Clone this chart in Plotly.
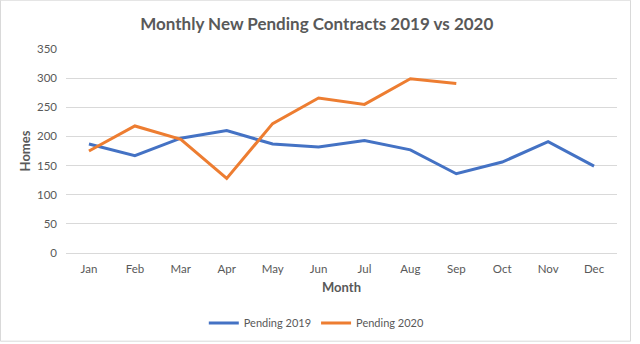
import plotly.graph_objects as go

months = ["Jan", "Feb", "Mar", "Apr", "May", "Jun", "Jul", "Aug", "Sep", "Oct", "Nov", "Dec"]
pending_2019 = [187, 167, 197, 210, 187, 182, 193, 177, 136, 156, 191, 149]
pending_2020 = [175, 218, 195, 128, 222, 266, 255, 299, 291]
y_ticks = [0, 50, 100, 150, 200, 250, 300, 350]

FONT = "Lato, Calibri, sans-serif"
GRAY = "#595959"

fig = go.Figure()
fig.add_trace(go.Scatter(x=months, y=pending_2019, mode="lines", name="Pending 2019",
                         line=dict(color="#4472C4", width=3)))
fig.add_trace(go.Scatter(x=months[:len(pending_2020)], y=pending_2020, mode="lines", name="Pending 2020",
                         line=dict(color="#ED7D31", width=3)))

fig.update_layout(
    width=640, height=344,
    margin=dict(l=66, r=23, t=49, b=91),
    paper_bgcolor="white", plot_bgcolor="white",
    font=dict(family=FONT, color=GRAY, size=12),
    title=dict(text="Monthly New Pending Contracts 2019 vs 2020", x=0.495, xref="container",
               y=1 - 24 / 344, yref="container", yanchor="middle", xanchor="center",
               font=dict(size=17, color=GRAY, family=FONT, weight="bold")),
    xaxis=dict(categoryorder="array", categoryarray=months, range=[-0.5, 11.5],
               showgrid=False, showline=True, linecolor="#d9d9d9", ticks="", ticklabelstandoff=5,
               title=dict(text="Month", font=dict(size=13, family=FONT, color=GRAY, weight="bold"), standoff=9),
               tickfont=dict(size=11.5, color=GRAY)),
    yaxis=dict(range=[0, 350], tickvals=y_ticks, showgrid=True, gridcolor="#d9d9d9", gridwidth=1,
               zeroline=False, ticks="", ticklabelstandoff=8,
               title=dict(text="Homes", font=dict(size=13, family=FONT, color=GRAY, weight="bold"), standoff=3),
               tickfont=dict(size=11.5, color=GRAY)),
    legend=dict(orientation="h", xref="container", yref="container", x=0.495, xanchor="center",
                y=1 - 323 / 344, yanchor="middle", font=dict(size=11, color=GRAY),
                itemwidth=30, traceorder="normal"),
    shapes=[dict(type="rect", xref="paper", yref="paper",
                 x0=(0.5 - 66) / 551, x1=(630.5 - 66) / 551,
                 y0=(253.3 - 341.5) / 204, y1=(253.3 - 0.5) / 204,
                 line=dict(color="#d9d9d9", width=1), layer="below")],
)

fig.write_html("out.html")
